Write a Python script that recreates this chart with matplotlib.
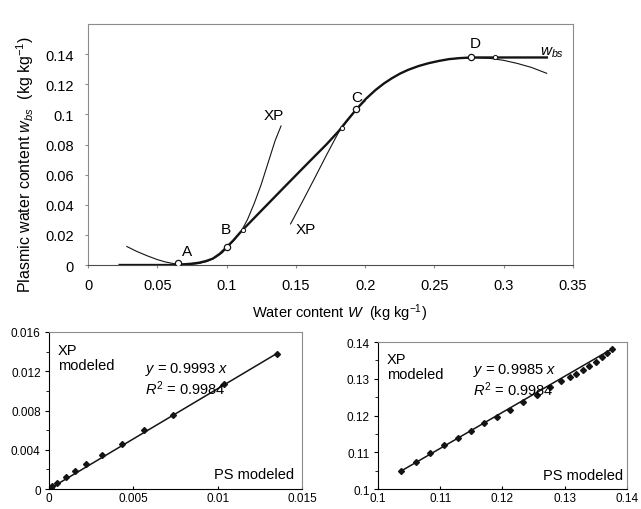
import numpy as np
import matplotlib
matplotlib.use("Agg")
import matplotlib.pyplot as plt

plt.rcParams['font.family'] = ['Liberation Sans', 'DejaVu Sans']
plt.rcParams['mathtext.fontset'] = 'custom'
plt.rcParams['mathtext.rm'] = 'Liberation Sans'
plt.rcParams['mathtext.it'] = 'Liberation Sans:italic'

# --- main chart: plasmic water content vs water content ---
w_main = [0.022, 0.035, 0.05, 0.062, 0.068, 0.074, 0.08, 0.085, 0.09, 0.095, 0.1,
          0.105, 0.11, 0.125, 0.1427, 0.16, 0.172, 0.181, 0.187, 0.1936, 0.2005, 0.2075,
          0.2135, 0.2193, 0.2252, 0.2311, 0.2385, 0.2458, 0.2532, 0.2605, 0.2685, 0.2767,
          0.30, 0.332]
wbs_main = [0.0, 0.0, 0.0, 0.0, 0.0004, 0.0008, 0.0015, 0.0026, 0.0042, 0.0074, 0.0118,
            0.0165, 0.0218, 0.0360, 0.0527, 0.0689, 0.0800, 0.0890, 0.0960, 0.1033, 0.1103,
            0.1162, 0.1205, 0.1240, 0.1271, 0.1296, 0.1321, 0.1340, 0.1355, 0.1367, 0.1374,
            0.1378, 0.1378, 0.1378]

# XP fit around A and B
w_xp_ab = [0.028, 0.035, 0.0425, 0.05, 0.056, 0.062, 0.068, 0.074, 0.08, 0.086, 0.092,
           0.097, 0.1, 0.105, 0.11, 0.115, 0.12, 0.125, 0.13, 0.135, 0.1393]
xp_ab = [0.0123, 0.0091, 0.0062, 0.0036, 0.0020, 0.0009, 0.0004, 0.0004, 0.0010, 0.0024,
         0.0050, 0.0082, 0.0112, 0.0160, 0.0215, 0.0300, 0.0410, 0.0535, 0.0680, 0.0825, 0.0923]

# XP fit around C
w_xp_c = [0.1462, 0.1544, 0.1633, 0.1721, 0.181, 0.1936, 0.2]
xp_c = [0.0273, 0.0415, 0.0572, 0.0730, 0.0884, 0.1033, 0.109]

# fit around D
w_xp_d = [0.26, 0.277, 0.29, 0.30, 0.31, 0.32, 0.331]
xp_d = [0.1368, 0.1378, 0.1372, 0.1359, 0.1338, 0.1312, 0.1273]

pt_names = ['A', 'B', 'C', 'D']
pt_w = [0.0647, 0.1001, 0.1936, 0.2767]
pt_wbs = [0.0011, 0.0118, 0.1033, 0.1378]
tan_w = [0.112, 0.183, 0.294]
tan_wbs = [0.0235, 0.0911, 0.1378]

main_xticks = [0, 0.05, 0.1, 0.15, 0.2, 0.25, 0.3, 0.35]
main_xlabels = ['0', '0.05', '0.1', '0.15', '0.2', '0.25', '0.3', '0.35']
main_yticks = [0, 0.02, 0.04, 0.06, 0.08, 0.1, 0.12, 0.14]
main_ylabels = ['0', '0.02', '0.04', '0.06', '0.08', '0.1', '0.12', '0.14']

# --- lower left: XP modeled vs PS modeled (low range) ---
ps_low = [0.00005, 0.0001, 0.00016, 0.00046, 0.00099, 0.00154, 0.00221, 0.00312,
          0.00431, 0.00565, 0.00737, 0.0104, 0.0135]
xp_low = [0.00005, 0.0001, 0.0003, 0.0006, 0.00121, 0.00181, 0.00255, 0.00349,
          0.00463, 0.00597, 0.00758, 0.0107, 0.0138]
low_ticks = [0, 0.005, 0.01, 0.015]
low_tlabels = ['0', '0.005', '0.01', '0.015']
low_yticks = [0, 0.004, 0.008, 0.012, 0.016]
low_ylabels = ['0', '0.004', '0.008', '0.012', '0.016']

# --- lower right: XP modeled vs PS modeled (high range) ---
ps_high = [0.1037, 0.1061, 0.1083, 0.1106, 0.1128, 0.1150, 0.1171, 0.1192, 0.1213,
           0.1234, 0.1255, 0.1276, 0.1295, 0.1308, 0.1318, 0.1329, 0.1339, 0.1350,
           0.1361, 0.1368, 0.1376]
xp_high = [0.1049, 0.1073, 0.1097, 0.1120, 0.1140, 0.1159, 0.1179, 0.1197, 0.1215,
           0.1236, 0.1257, 0.1277, 0.1294, 0.1305, 0.1314, 0.1324, 0.1335, 0.1347,
           0.1360, 0.1369, 0.1381]
high_ticks = [0.1, 0.11, 0.12, 0.13, 0.14]
high_tlabels = ['0.1', '0.11', '0.12', '0.13', '0.14']

fig = plt.figure(figsize=(6.41, 5.10), dpi=100)
ink = '0.08'
frame = '0.55'

# main chart
ax = fig.add_axes([0.1373, 0.4784, 0.7566, 0.4725])
ax.plot(w_xp_ab, xp_ab, color=ink, lw=0.8)
ax.plot(w_xp_c, xp_c, color=ink, lw=0.8)
ax.plot(w_xp_d, xp_d, color=ink, lw=0.8)
ax.plot(w_main, wbs_main, color=ink, lw=1.7, solid_capstyle='butt', solid_joinstyle='round')
ax.plot(tan_w, tan_wbs, ls='none', marker='o', ms=3, mfc='white', mec=ink, mew=0.7)
ax.plot(pt_w, pt_wbs, ls='none', marker='o', ms=4.5, mfc='white', mec=ink, mew=0.9, zorder=5)

label_off = [(0.0065, 0.0085), (-0.0005, 0.0122), (0.0, 0.0085), (0.0026, 0.0095)]
for name, x, y, (dx, dy) in zip(pt_names, pt_w, pt_wbs, label_off):
    ax.text(x + dx, y + dy, name, fontsize=11, ha='center', va='center')
ax.text(0.1342, 0.0996, 'XP', fontsize=11, ha='center', va='center')
ax.text(0.1575, 0.0240, 'XP', fontsize=11, ha='center', va='center')
ax.text(0.3347, 0.1418, r'$w_{bs}$', fontsize=11, ha='center', va='center')

ax.set_xlim(0, 0.35)
ax.set_ylim(0, 0.16)
ax.set_xticks(main_xticks)
ax.set_xticklabels(main_xlabels)
ax.set_yticks(main_yticks)
ax.set_yticklabels(main_ylabels)
ax.tick_params(labelsize=10.5, length=2, color=frame)
ax.tick_params(axis='y', pad=8)
ax.tick_params(axis='x', pad=7)
for s in ['top', 'right', 'left']:
    ax.spines[s].set_color(frame)
    ax.spines[s].set_linewidth(0.8)
ax.spines['bottom'].set_color('0.3')

fig.text(0.040, 1 - 165 / 510, r'Plasmic water content $w_{bs}$  (kg kg$^{-1}$)',
         rotation=90, fontsize=11.5, ha='center', va='center')
fig.text(0.53, 1 - 313 / 510, r'Water content $W$  (kg kg$^{-1}$)',
         fontsize=10.5, ha='center', va='center')


def style_panel(a, minor):
    a.set_yticks(minor, minor=True)
    a.tick_params(labelsize=8.5, length=3, pad=3)
    a.tick_params(axis='x', direction='in', length=2, pad=2)
    a.tick_params(which='minor', length=2)
    for s in ['top', 'right']:
        a.spines[s].set_color(frame)
        a.spines[s].set_linewidth(0.8)
    a.text(0.035, 0.93, 'XP\nmodeled', transform=a.transAxes, fontsize=10.5,
           ha='left', va='top', linespacing=1.1)


# lower left panel
bl = fig.add_axes([0.0764, 0.0390, 0.3947, 0.3081])
bl.plot([0, ps_low[-1]], [0, xp_low[-1]], color=ink, lw=1.1)
bl.plot(ps_low, xp_low, ls='none', marker='D', ms=3, color=ink)
bl.set_xlim(0, 0.015)
bl.set_ylim(0, 0.016)
bl.set_xticks(low_ticks)
bl.set_xticklabels(low_tlabels)
bl.set_yticks(low_yticks)
bl.set_yticklabels(low_ylabels)
style_panel(bl, [0.002, 0.006, 0.010, 0.014])
bl.text(0.38, 0.82, r'$y$ = 0.9993 $x$' + '\n' + r'$R^2$ = 0.9984', transform=bl.transAxes,
        fontsize=10.5, ha='left', va='top', linespacing=1.05)
bl.text(0.97, 0.05, 'PS modeled', transform=bl.transAxes, fontsize=10.5,
        ha='right', va='bottom')

# lower right panel
br = fig.add_axes([0.5897, 0.0390, 0.3880, 0.2884])
br.plot([ps_high[0], ps_high[-1]], [xp_high[0], xp_high[-1]], color=ink, lw=1.1)
br.plot(ps_high, xp_high, ls='none', marker='D', ms=3, color=ink)
br.set_xlim(0.1, 0.14)
br.set_ylim(0.1, 0.14)
br.set_xticks(high_ticks)
br.set_xticklabels(high_tlabels)
br.set_yticks(high_ticks)
br.set_yticklabels(high_tlabels)
style_panel(br, [0.105, 0.115, 0.125, 0.135])
br.text(0.38, 0.87, r'$y$ = 0.9985 $x$' + '\n' + r'$R^2$ = 0.9984', transform=br.transAxes,
        fontsize=10.5, ha='left', va='top', linespacing=1.05)
br.text(0.985, 0.05, 'PS modeled', transform=br.transAxes, fontsize=10.5,
        ha='right', va='bottom')

fig.savefig('out.png', dpi=100)
